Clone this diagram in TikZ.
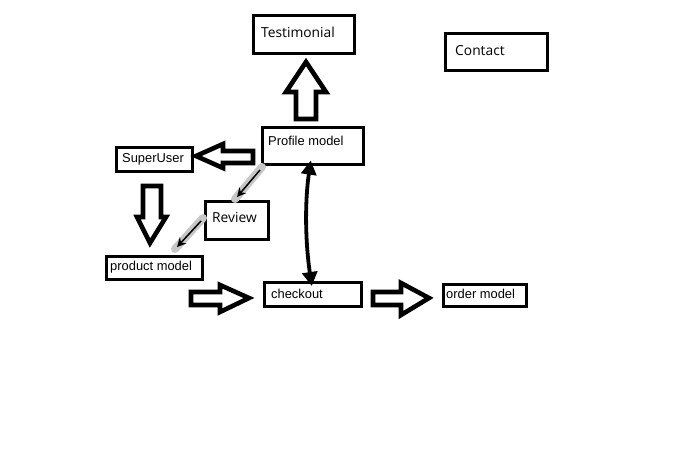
\documentclass[tikz,border=0pt]{standalone}
\usepackage{fontspec}
\setmainfont{Liberation Sans}
\newfontfamily\segoe{Open Sans}
\usetikzlibrary{arrows.meta}
\begin{document}
\begin{tikzpicture}[x=1pt,y=-1pt,
  box/.style={draw=black, line width=2.6pt, anchor=north west, inner sep=0pt, fill=white},
  tx/.style={anchor=base west, inner sep=0pt, font=\fontsize{12.9}{15}\selectfont},
  txs/.style={anchor=base west, inner sep=0pt, font=\segoe\fontsize{13.8}{16}\selectfont},
  blockarrow/.style={draw=black, line width=4.6pt, line join=miter, fill=white},
  shadowline/.style={draw=black!22, line width=8pt, line cap=round},
  thinarrow/.style={draw=black, line width=1.5pt, -{Stealth[length=9pt,width=9pt]}},
  dblarrow/.style={draw=black, line width=3.8pt, {Triangle[length=14pt,width=15pt]}-{Triangle[length=14pt,width=15pt]}}
]
\useasboundingbox[fill=white] (0,0) rectangle (692,456);

% boxes
\node[box, minimum width=101pt, minimum height=38pt] (testimonial) at (252,14) {};
\node[box, minimum width=102pt, minimum height=37pt] (contact) at (444,32) {};
\node[box, minimum width=101pt, minimum height=37pt] (profile) at (261,126) {};
\node[box, minimum width=76pt, minimum height=24pt] (superuser) at (115,146) {};
\node[box, minimum width=63pt, minimum height=38pt] (review) at (204,200) {};
\node[box, minimum width=96pt, minimum height=23pt] (product) at (105,255) {};
\node[box, minimum width=97pt, minimum height=24pt] (checkout) at (263,281) {};
\node[box, minimum width=83pt, minimum height=22pt] (order) at (442,283) {};

% texts
\node[txs] (testimonial-t) at (261,37) {Testimonial};
\node[txs] (contact-t) at (455,55) {Contact};
\node[tx] (profile-t) at (268,145) {Profile model};
\node[tx] (superuser-t) at (122,162) {SuperUser};
\node[txs] (review-t) at (212,222) {Review};
\node[tx] (product-t) at (110,270) {product model};
\node[tx] (checkout-t) at (271,298) {checkout};
\node[tx] (order-t) at (446,298) {order model};

% block arrows
\draw[blockarrow] (296,119) -- (296,92) -- (286,92) -- (306,62) -- (326,92) -- (316,92) -- (316,119) -- cycle;
\draw[blockarrow] (253,151) -- (223,151) -- (223,144) -- (196,156) -- (223,168) -- (223,163) -- (253,163) -- cycle;
\draw[blockarrow] (143,186) -- (143,217) -- (137,217) -- (150,243) -- (166,217) -- (161,217) -- (161,186) -- cycle;
\draw[blockarrow] (191,292) -- (220,292) -- (220,285) -- (249,298) -- (220,312) -- (220,305) -- (191,305) -- cycle;
\draw[blockarrow] (373,292) -- (401,292) -- (401,283) -- (429,298) -- (401,315) -- (401,305) -- (373,305) -- cycle;

% thin arrows with grey shadow
\coordinate (a1s) at (260,170);
\coordinate (a1e) at (237,197);
\coordinate (a2s) at (201,221);
\coordinate (a2e) at (177,247);
\draw[shadowline] ([shift={(2,-3)}]a1s) -- ([shift={(-2,2)}]a1e);
\draw[thinarrow] (a1s) -- (a1e);
\draw[shadowline] ([shift={(2,-3)}]a2s) -- ([shift={(-2,2)}]a2e);
\draw[thinarrow] (a2s) -- (a2e);

% double arrow
\draw[dblarrow] ([xshift=-2pt,yshift=5pt]profile.south) .. controls (305,200) and (305,240) .. ([xshift=-1pt,yshift=-5pt]checkout.north);
\end{tikzpicture}
\end{document}
